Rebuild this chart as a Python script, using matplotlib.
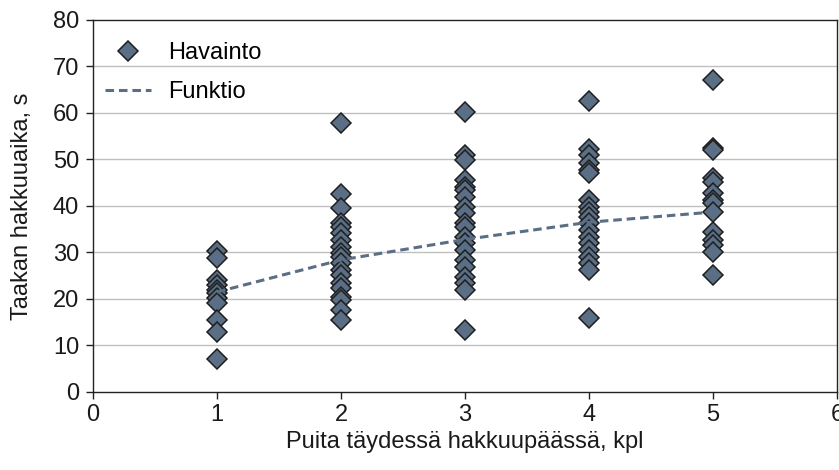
import matplotlib.pyplot as plt

# Observed processing times by number of trees in the felling head
x_obs_1 = [1] * 11
y_obs_1 = [30.4, 28.8, 24.0, 23.0, 21.9, 21.3, 20.2, 19.1, 15.5, 12.9, 7.1]

x_obs_2 = [2] * 19
y_obs_2 = [57.9, 42.6, 39.6, 36.3, 35.5, 34.2, 32.7, 31.2, 29.9, 29.0,
           27.7, 26.2, 25.2, 23.4, 22.4, 20.5, 19.8, 17.6, 15.5]

x_obs_3 = [3] * 20
y_obs_3 = [60.3, 51.0, 49.9, 45.6, 44.1, 43.4, 42.0, 39.8, 38.4, 36.3,
           35.5, 33.4, 32.0, 30.5, 28.4, 26.9, 24.8, 23.4, 21.9, 13.3]

x_obs_4 = [4] * 19
y_obs_4 = [62.5, 52.3, 51.0, 49.2, 47.8, 47.1, 41.3, 39.8, 38.7, 37.6,
           36.3, 34.8, 33.4, 32.0, 30.5, 29.0, 27.7, 26.2, 15.9]

x_obs_5 = [5] * 14
y_obs_5 = [67.0, 52.5, 52.0, 46.0, 45.2, 42.8, 41.3, 40.6, 38.7, 34.4,
           32.7, 31.6, 30.1, 25.2]

# Fitted function
x_fit = [1, 2, 3, 4, 5]
y_fit = [21.5, 28.4, 32.8, 36.5, 38.7]

x_obs = x_obs_1 + x_obs_2 + x_obs_3 + x_obs_4 + x_obs_5
y_obs = y_obs_1 + y_obs_2 + y_obs_3 + y_obs_4 + y_obs_5

plt.rcParams['font.family'] = ['Liberation Sans', 'DejaVu Sans']
FS = 17

fig = plt.figure(figsize=(8.39, 4.70), dpi=100)
ax = fig.add_axes([0.1108, 0.166, 0.8868, 0.7915])

MARK = '#5a6e85'

ax.plot(x_obs, y_obs, linestyle='none', marker='D', markersize=10,
        markerfacecolor=MARK, markeredgecolor='#1e1e1e', markeredgewidth=1.1,
        label='Havainto', zorder=3)
ax.plot(x_fit, y_fit, linestyle=(0, (2.8, 1.6)), color=MARK, linewidth=2.2,
        label='Funktio', zorder=4)

ax.set_xlim(0, 6)
ax.set_ylim(0, 80)
ax.set_xticks(range(0, 7))
ax.set_yticks(range(0, 90, 10))

for y in range(10, 80, 10):
    ax.axhline(y, color='#c0c0c0', linewidth=1, zorder=1)

for s in ax.spines.values():
    s.set_color('#222222')
    s.set_linewidth(1)

ax.tick_params(axis='x', pad=4)
ax.tick_params(axis='y', pad=5)
ax.tick_params(direction='out', length=5, width=1, color='#222222',
               labelsize=FS, labelcolor='#1a1a1a')

ax.set_xlabel('Puita täydessä hakkuupäässä, kpl', fontsize=FS, labelpad=3,
              color='#1a1a1a')
ax.set_ylabel('Taakan hakkuuaika, s', fontsize=FS, labelpad=14,
              color='#1a1a1a')

ax.legend(loc='upper left', fontsize=FS, frameon=False, handlelength=1.95,
          borderaxespad=0, borderpad=0, labelspacing=0.72,
          handletextpad=0.72, bbox_to_anchor=(0.016, 0.94))

fig.savefig('out.png', dpi=100)
